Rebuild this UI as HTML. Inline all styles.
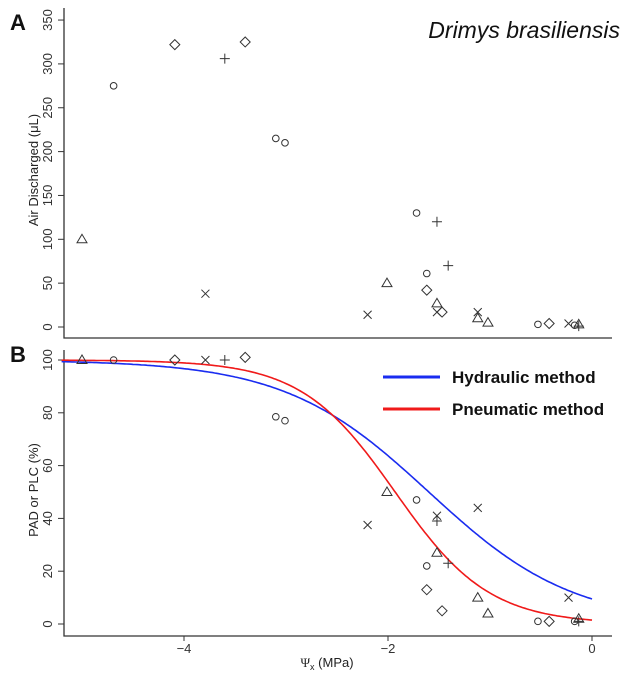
<!DOCTYPE html>
<html><head><meta charset="utf-8"><style>
body{margin:0;background:#fff;}
svg{display:block;font-family:"Liberation Sans",sans-serif;}
</style></head><body>
<svg id="c" width="635" height="681" xmlns="http://www.w3.org/2000/svg"></svg>
<script>
// Panel A data: [shape, water potential MPa, air discharged uL]
const aShapes=["tri","circ","dia","x","plus","dia","circ","circ","x","tri","circ","circ","dia","plus","tri","x","dia","plus","x","tri","tri","circ","dia","x","circ","tri","plus"];
const aX=[-5.0,-4.69,-4.09,-3.79,-3.6,-3.4,-3.1,-3.01,-2.2,-2.01,-1.72,-1.62,-1.62,-1.52,-1.52,-1.52,-1.47,-1.41,-1.12,-1.12,-1.02,-0.53,-0.42,-0.23,-0.17,-0.13,-0.13];
const aY=[100,275,322,38,306,325,215,210,14,50,130,61,42,120,27,17,17,70,17,10,5,3,4,4,2,3,1];
// Panel B data
const bShapes=["tri","circ","dia","x","plus","dia","circ","circ","x","tri","circ","circ","dia","x","plus","tri","dia","plus","x","tri","tri","circ","dia","x","circ","tri","plus"];
const bX=[-5.0,-4.69,-4.09,-3.79,-3.6,-3.4,-3.1,-3.01,-2.2,-2.01,-1.72,-1.62,-1.62,-1.52,-1.52,-1.52,-1.47,-1.41,-1.12,-1.12,-1.02,-0.53,-0.42,-0.23,-0.17,-0.13,-0.13];
const bY=[100,100,100,100,100,101,78.5,77,37.5,50,47,22,13,41,39,27,5,23,44,10,4,1,1,10,1,2,1];
// fitted curves: slope, P50
const curveNames=["Hydraulic method","Pneumatic method"];
const curveSlope=[1.41,2.17];
const curveP50=[-1.6,-1.93];
const curveColors=["#1a2cf0","#f01a1a"];
const aTicks=[0,50,100,150,200,250,300,350];
const bTicks=[0,20,40,60,80,100];
const xTicks=[-4,-2,0];

const NS="http://www.w3.org/2000/svg";
const svg=document.getElementById('c');
function el(t,a,p){const e=document.createElementNS(NS,t);for(const k in a)e.setAttribute(k,a[k]);(p||svg).appendChild(e);return e;}
const X=v=>592+102*v;
const YA=v=>327-0.877*v;
const YB=v=>624-2.64*v;
const ink="#333";

function marker(s,x,y,g){
  let e;
  if(s==="circ") e=el('circle',{cx:x,cy:y,r:3.3,fill:'none',stroke:ink,'stroke-width':1},g);
  else if(s==="tri") e=el('polygon',{points:`${x},${y-5} ${x-5},${y+3.5} ${x+5},${y+3.5}`,fill:'none',stroke:ink,'stroke-width':1},g);
  else if(s==="dia") e=el('polygon',{points:`${x},${y-5} ${x+5},${y} ${x},${y+5} ${x-5},${y}`,fill:'none',stroke:ink,'stroke-width':1},g);
  else if(s==="x") e=el('path',{d:`M${x-4},${y-4}L${x+4},${y+4}M${x-4},${y+4}L${x+4},${y-4}`,stroke:ink,'stroke-width':1},g);
  else e=el('path',{d:`M${x-5},${y}L${x+5},${y}M${x},${y-5}L${x},${y+5}`,stroke:ink,'stroke-width':1},g);
  return e;
}

// Panel A axes
const gA=el('g',{});


let l=el('path',{d:'M64,8V338H612',fill:'none',stroke:ink,'stroke-width':1.3},gA);


aTicks.forEach(v=>{
  const y=YA(v);
  el('line',{x1:58,x2:64,y1:y,y2:y,stroke:ink},gA);
  const t=el('text',{x:0,y:0,transform:`translate(52,${y}) rotate(-90)`,'text-anchor':'middle','font-size':13,fill:ink},gA);
  t.textContent=v;
  
  
});
let t=el('text',{transform:'translate(38,170) rotate(-90)','text-anchor':'middle','font-size':13,fill:'#222'},gA);
t.textContent='Air Discharged (\u03bcL)';


t=el('text',{x:10,y:30,'font-size':22,'font-weight':'bold',fill:'#111'},gA);
t.textContent='A';


t=el('text',{x:620,y:38,'text-anchor':'end','font-size':23,'font-style':'italic',fill:'#111'},gA);
t.textContent='Drimys brasiliensis';


aX.forEach((v,i)=>{
  const m=marker(aShapes[i],X(v),YA(aY[i]),gA);
  
  
});

// Panel B
const gB=el('g',{});


l=el('path',{d:'M64,350V636H612',fill:'none',stroke:ink,'stroke-width':1.3},gB);


bTicks.forEach(v=>{
  const y=YB(v);
  el('line',{x1:58,x2:64,y1:y,y2:y,stroke:ink},gB);
  const t=el('text',{transform:`translate(52,${y}) rotate(-90)`,'text-anchor':'middle','font-size':13,fill:ink},gB);
  t.textContent=v;
  
  
});
xTicks.forEach(v=>{
  const x=X(v);
  el('line',{x1:x,x2:x,y1:636,y2:641,stroke:ink},gB);
  const t=el('text',{x:x,y:653,'text-anchor':'middle','font-size':13,fill:ink},gB);
  t.textContent=v===0?'0':'\u2212'+Math.abs(v);
  
  
});
t=el('text',{transform:'translate(38,490) rotate(-90)','text-anchor':'middle','font-size':13,fill:'#222'},gB);
t.textContent='PAD or PLC (%)';


t=el('text',{x:327,y:667,'text-anchor':'middle','font-size':13,fill:'#222'},gB);
t.innerHTML='<tspan font-family="Liberation Serif">\u03a8</tspan><tspan font-size="9" dy="3">x</tspan><tspan dy="-3"> (MPa)</tspan>';


t=el('text',{x:10,y:362,'font-size':22,'font-weight':'bold',fill:'#111'},gB);
t.textContent='B';


curveSlope.forEach((s,i)=>{
  let d='';
  for(let v=-5.2;v<=0.001;v+=0.02){
    const p=100/(1+Math.exp(s*(v-curveP50[i])));
    d+=(d?'L':'M')+X(v).toFixed(1)+','+YB(p).toFixed(1);
  }
  const c=el('path',{d:d,fill:'none',stroke:curveColors[i],'stroke-width':1.6},gB);
  
  
  const ly=377+32*i;
  const ll=el('line',{x1:383,x2:440,y1:ly,y2:ly,stroke:curveColors[i],'stroke-width':3},gB);
  
  
  const lt=el('text',{x:452,y:ly+6,'font-size':17,'font-weight':'bold',fill:'#111'},gB);
  lt.textContent=curveNames[i];
  
  
});
bX.forEach((v,i)=>{
  const m=marker(bShapes[i],X(v),YB(bY[i]),gB);
  
  
});
</script>
</body></html>
